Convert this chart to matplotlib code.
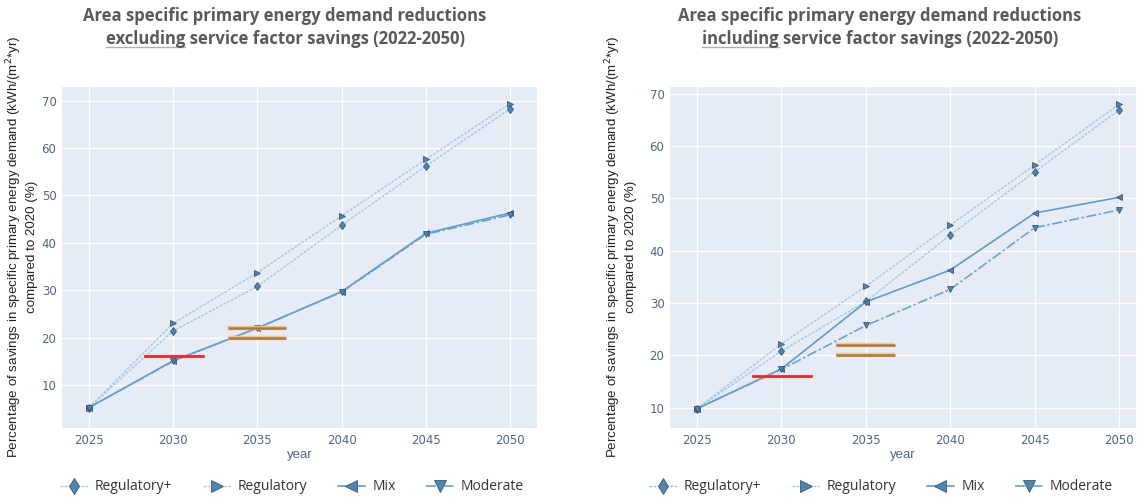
import matplotlib
matplotlib.use("Agg")
import matplotlib.pyplot as plt
from matplotlib.lines import Line2D

# scenario data (savings in %, per year)
years = [2025, 2030, 2035, 2040, 2045, 2050]
scenarios = ["Regulatory+", "Regulatory", "Mix", "Moderate"]

excl_reg_plus = [5.2, 21.4, 30.8, 43.7, 56.2, 68.3]
excl_reg = [5.2, 23.0, 33.7, 45.7, 57.6, 69.4]
excl_mix = [5.2, 15.1, 22.0, 29.7, 42.0, 46.3]
excl_moderate = [5.2, 15.0, 22.0, 29.6, 41.8, 45.9]

incl_reg_plus = [9.8, 20.8, 30.3, 43.0, 55.1, 66.9]
incl_reg = [9.8, 22.2, 33.2, 44.9, 56.4, 68.0]
incl_mix = [9.8, 17.4, 30.2, 36.3, 47.2, 50.2]
incl_moderate = [9.8, 17.3, 25.7, 32.6, 44.4, 47.8]

# target markers: (value, start year, end year)
target_2030 = (16, 2028.3, 2031.75)
targets_2035 = [(22, 2033.25, 2036.7), (20, 2033.25, 2036.7)]

BG = "#E5ECF6"
TICK = "#506784"
styles = {
    "Regulatory+": dict(ls=(0, (2, 1)), color="#a3c7e6", marker="d", lw=1.0, ms=4.5),
    "Regulatory": dict(ls=(0, (2, 1)), color="#a3c7e6", marker=">", lw=1.0, ms=4.5),
    "Mix": dict(ls="-", color="#5f9ccd", marker="<", lw=1.2, ms=4.5),
    "Moderate": dict(ls=(0, (6, 1.5, 1.5, 1.5)), color="#6aa3d2", marker="v", lw=1.2, ms=4.5),
}
MFC = "#5284ad"
MEC = "#34597a"

fig = plt.figure(figsize=(11.38, 4.97), dpi=100)
W, H = 1138, 497


def make_axes(left, right, ylim):
    ax = fig.add_axes([left / W, (H - 428) / H, (right - left) / W, (428 - 87) / H])
    ax.set_facecolor(BG)
    for s in ax.spines.values():
        s.set_visible(False)
    ax.grid(True, color="white", lw=0.9)
    ax.set_axisbelow(True)
    ax.set_xticks(years)
    ax.set_yticks([10, 20, 30, 40, 50, 60, 70])
    ax.tick_params(length=0, labelsize=8.5, labelcolor=TICK, pad=4)
    ax.set_xlim(2023.4, 2051.6)
    ax.set_ylim(*ylim)
    ax.set_xlabel("year", fontsize=9.5, color=TICK, labelpad=2, family="Liberation Sans")
    return ax


def draw_panel(ax, series):
    for name, vals in zip(scenarios, series):
        st = styles[name]
        ax.plot(years, vals, ls=st["ls"], color=st["color"], lw=st["lw"],
                marker=st["marker"], ms=st["ms"], mfc=MFC, mec=MEC, mew=0.6,
                label=name, zorder=3)
    v, x0, x1 = target_2030
    ax.plot([x0, x1], [v, v], color="#ff1f1f", lw=2.0, zorder=4)
    for v, x0, x1 in targets_2035:
        ax.plot([x0, x1], [v, v], color="#e8c9a0", lw=3.2, zorder=4, solid_capstyle="butt")
        ax.plot([x0, x1], [v, v], color="#b8772e", lw=1.8, zorder=5, solid_capstyle="butt")


ax1 = make_axes(62, 537, (0.9, 72.9))
draw_panel(ax1, [excl_reg_plus, excl_reg, excl_mix, excl_moderate])
ax2 = make_axes(670, 1136, (6.1, 71.3))
ax2.set_xlim(2023.4, 2051.0)
draw_panel(ax2, [incl_reg_plus, incl_reg, incl_mix, incl_moderate])

ylabel = "Percentage of savings in specific primary energy demand (kWh/(m$^2$*yr)\ncompared to 2020 (%)"
for xc in (21, 620):
    fig.text(xc / W, 1 - 247 / H, ylabel, rotation=90, ha="center", va="center",
             fontsize=9.6, color="#222222", family="Liberation Sans", linespacing=1.25)

# titles with underlined keyword
fig.canvas.draw()
renderer = fig.canvas.get_renderer()
TITLE_C = "#5a5a5a"
for xc, word in ((285, "excluding"), (880, "including")):
    tkw = dict(fontsize=12, fontweight="bold", color=TITLE_C, family="Open Sans",
               ha="center", va="center")
    fig.text(xc / W, 1 - 16 / H, "Area specific primary energy demand reductions", **tkw)
    line2 = f"{word} service factor savings (2022-2050)"
    t2 = fig.text(xc / W, 1 - 39 / H, line2, **tkw)
    bb = t2.get_window_extent(renderer)
    tmp = fig.text(0, 0, word, fontsize=12, fontweight="bold", family="Open Sans")
    wb = tmp.get_window_extent(renderer)
    tmp.remove()
    y_ul = bb.y0 + 1
    fig.add_artist(Line2D([bb.x0 / W, (bb.x0 + wb.width) / W], [y_ul / H, y_ul / H],
                          color="#b0b0b0", lw=1.0, transform=fig.transFigure))

# legends below each panel
for ax, xc in ((ax1, 292), (ax2, 881)):
    handles, labels = ax.get_legend_handles_labels()
    leg = fig.legend(handles, labels, loc="center", bbox_to_anchor=(xc / W, 1 - 487 / H),
                     ncol=4, frameon=False, handlelength=2.0,
                     columnspacing=2.2, handletextpad=0.5, markerscale=1.9,
                     prop={"family": "Open Sans", "size": 10})
    for t in leg.get_texts():
        t.set_color("#333333")

fig.savefig("out.png", dpi=100, facecolor="white")
